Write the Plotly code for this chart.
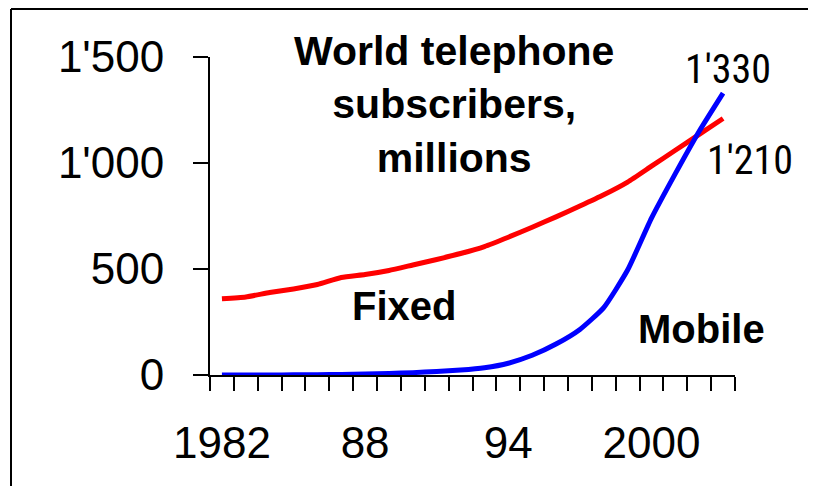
import plotly.graph_objects as go

years = list(range(1982, 2004))
fixed = [360, 368, 389, 406, 427, 460, 474, 493, 519, 545, 573, 606, 650,
         697, 746, 797, 850, 910, 985, 1060, 1135, 1210]
mobile = [0.0, 0.1, 0.3, 0.8, 1.4, 2.3, 4.2, 7.4, 11.2, 16.2, 23.2, 34.2, 55.5,
          93, 146, 215, 318, 495, 740, 950, 1150, 1330]
label_years = [1982, 1988, 1994, 2000]
label_text = ["1982", "88", "94", "2000"]
y_ticks = [0, 500, 1000, 1500]
y_text = ["0", "500", "1'000", "1'500"]

# page offset (body margin) compensation
OFF = 8
W, H = 816, 486
L, T = 210 - OFF, 57 - OFF
R = W - (735 - OFF)
B = H - (375 - OFF)
PW, PH = W - L - R, H - T - B


def px(x):
    return (x - OFF - L) / PW


def py(y):
    return (H - B - (y - OFF)) / PH


FONT = "Liberation Sans, Arial, sans-serif"
NARROW = "Liberation Sans Narrow, Roboto Condensed, DejaVu Sans Condensed, Arial Narrow, sans-serif"

fig = go.Figure()
fig.add_trace(go.Scatter(x=years, y=fixed, mode="lines", name="Fixed",
                         line=dict(color="#ff0000", width=5, shape="spline", smoothing=0.5),
                         cliponaxis=False))
fig.add_trace(go.Scatter(x=years, y=mobile, mode="lines", name="Mobile",
                         line=dict(color="#0000ff", width=5, shape="spline", smoothing=0.5),
                         cliponaxis=False))

fig.update_layout(
    template="none",
    width=W, height=H,
    margin=dict(l=L, r=R, t=T, b=B, pad=0, autoexpand=False),
    paper_bgcolor="white", plot_bgcolor="white",
    showlegend=False,
    font=dict(family=FONT, color="black"),
    xaxis=dict(
        range=[1981.5, 2003.5], showgrid=False, zeroline=False, automargin=False,
        showline=True, linecolor="black", linewidth=2,
        tickmode="array", tickvals=label_years, ticktext=label_text,
        ticks="", tickfont=dict(size=44, family=FONT, color="black"),
        ticklabelstandoff=28,
        minor=dict(ticks="outside", ticklen=14, tickwidth=2, tickcolor="black",
                   tick0=1981.5, dtick=1, showgrid=False),
    ),
    yaxis=dict(
        range=[0, 1500], showgrid=False, zeroline=False, automargin=False,
        showline=True, linecolor="black", linewidth=2,
        tickmode="array", tickvals=y_ticks, ticktext=y_text,
        ticks="outside", ticklen=15, tickwidth=2, tickcolor="black",
        tickfont=dict(size=44, family=FONT, color="black"),
        ticklabelstandoff=20,
    ),
)

annots = [
    dict(text="<b>World telephone<br>subscribers,<br>millions</b>", x=px(453.5), y=py(104),
         size=41, family=FONT),
    dict(text="<b>Fixed</b>", x=px(404), y=py(306), size=40, family=FONT),
    dict(text="<b>Mobile</b>", x=px(701.5), y=py(329), size=40, family=FONT),
    dict(text="1'330", x=px(727.5), y=py(69), size=40, family=NARROW),
    dict(text="1'210", x=px(750), y=py(160), size=40, family=NARROW),
]
for a in annots:
    fig.add_annotation(text=a["text"], x=a["x"], y=a["y"], xref="paper", yref="paper",
                       xanchor="center", yanchor="middle", showarrow=False,
                       font=dict(size=a["size"], family=a["family"], color="black"))

# outer frame (partially visible)
fig.add_shape(type="line", xref="paper", yref="paper",
              x0=px(11), x1=px(11), y0=py(9), y1=py(520),
              line=dict(color="black", width=2))
fig.add_shape(type="line", xref="paper", yref="paper",
              x0=px(11), x1=px(850), y0=py(9), y1=py(9),
              line=dict(color="black", width=2))

fig.write_html("out.html")
